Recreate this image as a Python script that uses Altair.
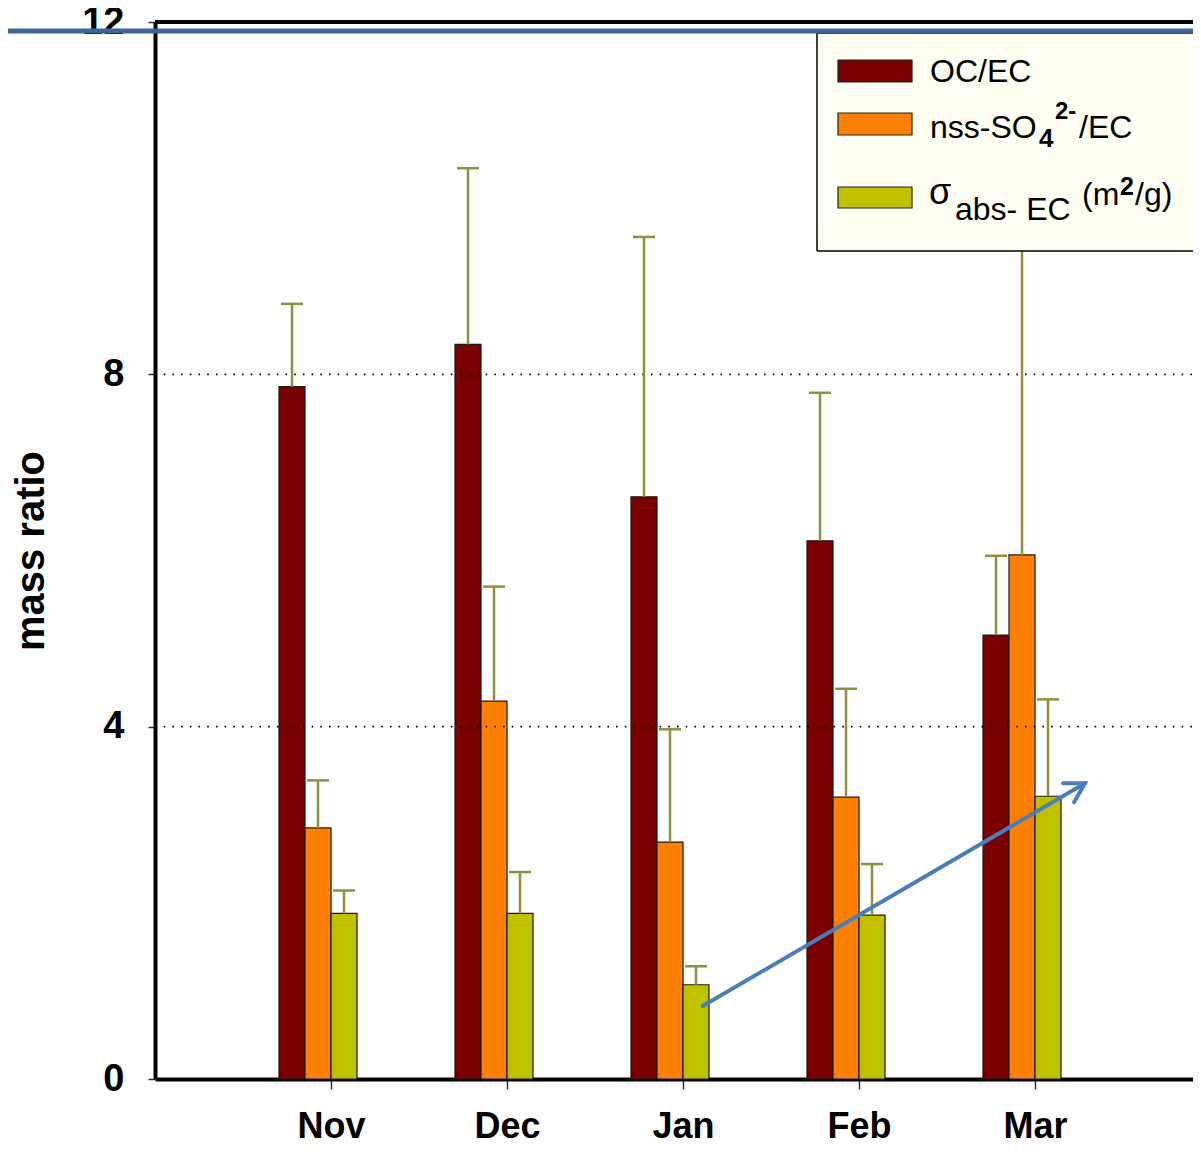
import altair as alt
import pandas as pd

# ---------------- data ----------------
months = ["Nov", "Dec", "Jan", "Feb", "Mar"]
series = ["OC/EC", "nss-SO4/EC", "sigma_abs-EC"]
oc_ec = [7.86, 8.34, 6.61, 6.11, 5.04]
oc_ec_top = [8.80, 10.34, 9.56, 7.79, 5.94]
so4_ec = [2.85, 4.29, 2.69, 3.20, 5.95]
so4_ec_top = [3.39, 5.59, 3.97, 4.43, 9.53]
sigma_abs = [1.88, 1.88, 1.07, 1.86, 3.21]
sigma_abs_top = [2.14, 2.35, 1.28, 2.44, 4.31]
y_ticks = [0, 4, 8, 12]
grid_values = [4, 8]
arrow_x = [3.112, 5.284]
arrow_y = [0.829, 3.357]

# ---------------- styling / layout ----------------
colors = ["#7a0000", "#ff8000", "#c0c000"]
err_color = "#8f8f3c"
bg = "#fefff2"
FONT = "Liberation Sans"
PX_PER_UNIT_X = 176.0
W, H = 1038, 1057
LEFT, TOP = 147, 14
XMAX = W / PX_PER_UNIT_X
BW = 26 / PX_PER_UNIT_X      # bar width in x units
CAP = 22 / PX_PER_UNIT_X     # error cap width

rows = []
vals = [oc_ec, so4_ec, sigma_abs]
tops = [oc_ec_top, so4_ec_top, sigma_abs_top]
for i, m in enumerate(months):
    for k, s in enumerate(series):
        x0 = (i + 1) + (k - 2) * BW
        xc = x0 + BW / 2
        rows.append(dict(month=m, series=s, x0=x0, x1=x0 + BW, xc=xc,
                         c0=xc - CAP / 2, c1=xc + CAP / 2,
                         value=vals[k][i], top=tops[k][i]))
df = pd.DataFrame(rows)

xscale = alt.Scale(domain=[0, XMAX], nice=False, zero=False)
yscale = alt.Scale(domain=[0, 12], nice=False, zero=True)

label_expr = "[" + ",".join(f"'{m}'" for m in months) + "][datum.value - 1]"

x_axis = alt.Axis(values=[1, 2, 3, 4, 5], labelExpr=label_expr, title=None, grid=False,
                  domainColor="black", domainWidth=4, tickColor="#333333", tickWidth=1.5,
                  tickSize=10, labelFont=FONT, labelFontWeight="bold", labelFontSize=36,
                  labelColor="black", labelBaseline="alphabetic", labelPadding=48,
                  labelFlush=False, labelOverlap=False)
y_axis = alt.Axis(values=y_ticks, format="d", title="mass ratio", grid=False, domainColor="black",
                  domainWidth=4, tickColor="#333333", tickWidth=1.5, tickSize=7,
                  labelFont=FONT, labelFontWeight="bold", labelFontSize=38, labelColor="black",
                  labelPadding=24, labelFlush=False, titleFont=FONT, titleFontWeight="bold",
                  titleFontSize=40, titleColor="black", titlePadding=30)

bars = alt.Chart(df).mark_bar(stroke="#1a1a1a", strokeWidth=1.2).encode(
    x=alt.X("x0:Q", scale=xscale, axis=x_axis),
    x2="x1:Q",
    y=alt.Y("value:Q", scale=yscale, axis=y_axis),
    y2=alt.datum(0),
    color=alt.Color("series:N", scale=alt.Scale(domain=series, range=colors), legend=None),
)

grid = alt.Chart(pd.DataFrame({"g": grid_values})).mark_rule(
    color="black", strokeWidth=1.6, strokeDash=[1.6, 7.1]
).encode(y=alt.Y("g:Q", scale=yscale), x=alt.datum(0), x2=alt.datum(XMAX))

err = alt.Chart(df).mark_rule(color=err_color, strokeWidth=2.5).encode(
    x=alt.X("xc:Q", scale=xscale), y=alt.Y("value:Q", scale=yscale), y2="top:Q")
caps = alt.Chart(df).mark_rule(color=err_color, strokeWidth=2.5).encode(
    x=alt.X("c0:Q", scale=xscale), x2="c1:Q", y=alt.Y("top:Q", scale=yscale))

one = pd.DataFrame({"a": [0]})
top_border = alt.Chart(one).mark_rule(color="black", strokeWidth=4).encode(
    x=alt.datum(0, scale=xscale), x2=alt.datum(XMAX), y=alt.datum(12, scale=yscale))

arrow_df = pd.DataFrame({"x": arrow_x, "y": arrow_y})
arrow_line = alt.Chart(arrow_df).mark_line(color="#4a7ebb", strokeWidth=4, strokeCap="round").encode(
    x=alt.X("x:Q", scale=xscale), y=alt.Y("y:Q", scale=yscale))
arrow_head = alt.Chart(arrow_df.iloc[[1]]).mark_point(
    shape="M -1 -0.58 L 0 0 L -1 0.58", filled=False, size=1444, angle=330,
    color="#4a7ebb", strokeWidth=4, strokeCap="round", opacity=1
).encode(x=alt.X("x:Q", scale=xscale), y=alt.Y("y:Q", scale=yscale))

# slide decoration line across the top
blue_line = alt.Chart(one).mark_rule(color="#3e6496", strokeWidth=5).encode(
    x=alt.value(-LEFT), x2=alt.value(W), y=alt.value(9))

# ---------------- custom legend (rich text) ----------------
def px(x):
    return x - 155

def py(y):
    return y - 22

legend_box = alt.Chart(one).mark_rect(fill=bg).encode(
    x=alt.value(px(817)), x2=alt.value(W), y=alt.value(py(33)), y2=alt.value(py(251)))
legend_border = [
    alt.Chart(one).mark_rule(color="black", strokeWidth=1.5).encode(
        x=alt.value(px(817)), x2=alt.value(W), y=alt.value(py(33))),
    alt.Chart(one).mark_rule(color="black", strokeWidth=1.5).encode(
        x=alt.value(px(817)), x2=alt.value(W), y=alt.value(py(251))),
    alt.Chart(one).mark_rule(color="black", strokeWidth=1.5).encode(
        x=alt.value(px(817)), y=alt.value(py(33)), y2=alt.value(py(251))),
]

swatch_rows = [(60, 82), (113, 135), (187, 208)]
swatches = [
    alt.Chart(one).mark_rect(fill=colors[k], stroke="#222222", strokeWidth=1.2).encode(
        x=alt.value(px(838)), x2=alt.value(px(912)),
        y=alt.value(py(swatch_rows[k][0])), y2=alt.value(py(swatch_rows[k][1])))
    for k in range(3)
]

def seg(text, x, y, size, weight="normal"):
    return alt.Chart(one).mark_text(
        text=text, align="left", baseline="alphabetic", font=FONT, fontSize=size,
        fontWeight=weight, color="black"
    ).encode(x=alt.value(px(x)), y=alt.value(py(y)))

legend_text = [
    seg("OC/EC", 930, 82, 32),
    seg("nss-SO", 930, 138, 32),
    seg("4", 1039, 147, 26, "bold"),
    seg("2-", 1055, 119, 24, "bold"),
    seg("/EC", 1079, 138, 32),
    seg("σ", 929, 204, 36),
    seg("abs- EC", 955, 220, 32),
    seg("(m", 1082, 205, 32),
    seg("2", 1120, 195, 25, "bold"),
    seg("/g)", 1135, 205, 32),
]

chart = alt.layer(
    bars, grid, err, caps, top_border, arrow_line, arrow_head,
    legend_box, *legend_border, *swatches, *legend_text, blue_line
).properties(
    width=W, height=H,
    autosize=alt.AutoSizeParams(type="none"),
    padding={"left": LEFT, "top": TOP, "right": 0, "bottom": 67},
).configure_view(fill=bg, stroke=None).configure(background="white")

chart.save("out.html", embed_options={"renderer": "svg", "actions": False})
